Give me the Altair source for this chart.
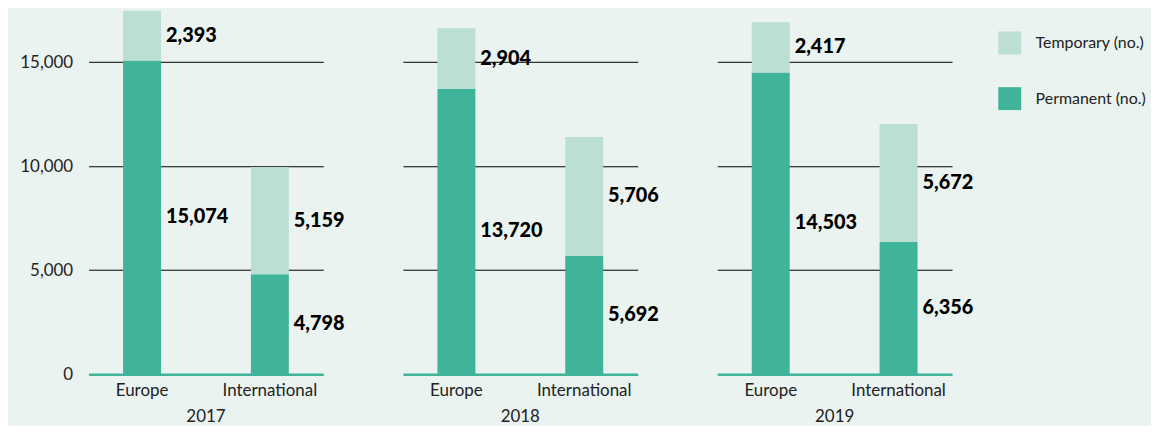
import altair as alt
import pandas as pd

years = ["2017", "2018", "2019"]
regions = ["Europe", "International"]
permanent = {"2017": [15074, 4798], "2018": [13720, 5692], "2019": [14503, 6356]}
temporary = {"2017": [2393, 5159], "2018": [2904, 5706], "2019": [2417, 5672]}
series = ["Temporary (no.)", "Permanent (no.)"]
colors = ["#bcdfd3", "#40b49a"]

rows = []
for y in years:
    for i, r in enumerate(regions):
        p = permanent[y][i]
        t = temporary[y][i]
        rows.append({"year": y, "region": r, "series": "Permanent (no.)", "value": p,
                     "ord": 0, "mid": p / 2})
        rows.append({"year": y, "region": r, "series": "Temporary (no.)", "value": t,
                     "ord": 1, "mid": p + t / 2})
df = pd.DataFrame(rows)

FONT = "Lato"

yaxis = alt.Axis(values=[0, 5000, 10000, 15000], format=",d", domain=False, ticks=False,
                 labelFontSize=17, labelColor="#222", labelPadding=16, labelFont=FONT,
                 gridColor="black", gridWidth=1,
                 gridOpacity={"condition": {"test": "datum.value === 0", "value": 0}, "value": 1})
yscale = alt.Scale(domain=[0, 17550], nice=False)

bars = alt.Chart().mark_bar().encode(
    x=alt.X("region:N", title=None, sort=regions,
            scale=alt.Scale(paddingInner=0.703, paddingOuter=0.27),
            axis=alt.Axis(labelAngle=0, ticks=False, domainColor="#40b49a", domainWidth=2.5,
                          labelFontSize=17, labelColor="#222", labelPadding=8, labelFont=FONT)),
    y=alt.Y("value:Q", stack="zero", title=None, scale=yscale, axis=yaxis),
    color=alt.Color("series:N", scale=alt.Scale(domain=series, range=colors),
                    legend=alt.Legend(title=" ", titleFontSize=10, titlePadding=12,
                                      orient="right", symbolType="square", symbolSize=530,
                                      symbolStrokeWidth=0, labelFontSize=16, labelFont=FONT,
                                      labelColor="#222", rowPadding=32, labelOffset=14, offset=24,
                                      padding=0)),
    order=alt.Order("ord:Q"),
)

labels = alt.Chart().mark_text(align="left", baseline="middle", dx=24, fontSize=20,
                               fontWeight=900, font=FONT, color="black").encode(
    x=alt.X("region:N", sort=regions),
    y=alt.Y("mid:Q", title=None, scale=yscale, axis=yaxis),
    text=alt.Text("value:Q", format=","),
)

chart = alt.layer(bars, labels, data=df).properties(width=236, height=367).facet(
    column=alt.Column("year:N", title=None,
                      header=alt.Header(labelOrient="bottom", labelFontSize=17, labelFont=FONT,
                                        labelColor="#222", labelPadding=11)),
    bounds="flush",
).configure(background="#eaf3ef").configure_view(stroke=None).configure_facet(spacing=80).properties(
    padding={"left": 11, "top": 0, "right": 5, "bottom": 0}
)

chart.save("out.html", embed_options={"renderer": "svg", "actions": False})
